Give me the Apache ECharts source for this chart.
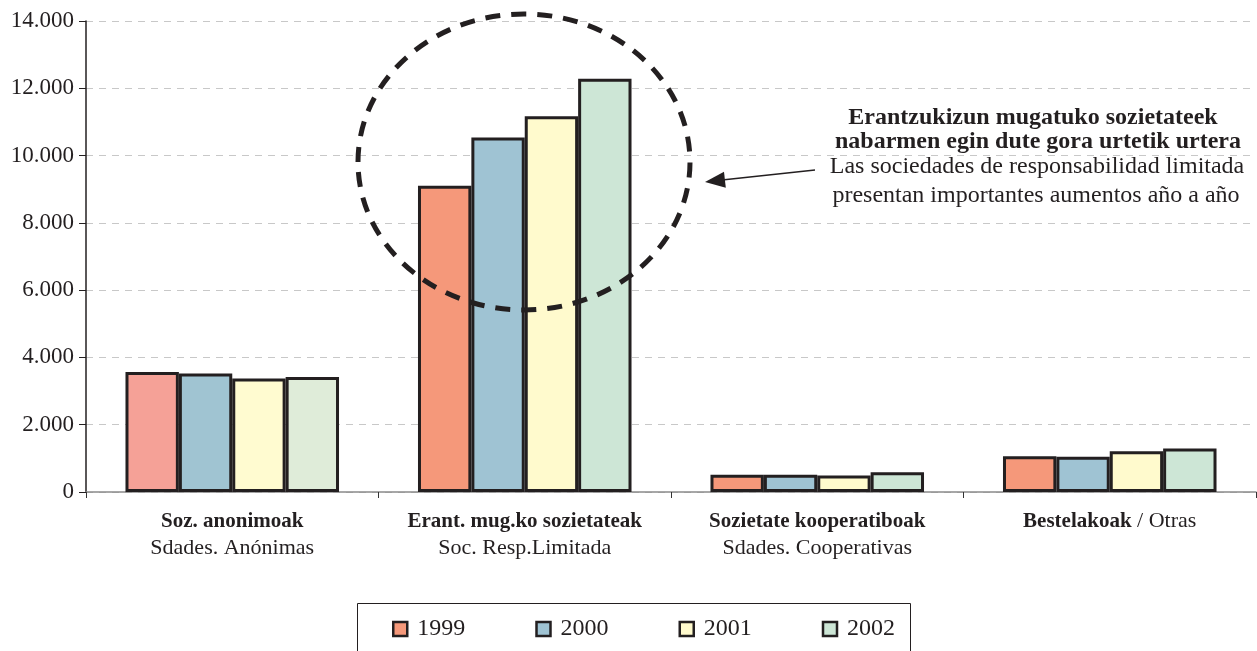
<!DOCTYPE html>
<html>
<head>
<meta charset="utf-8">
<script src="https://cdn.jsdelivr.net/npm/echarts@6/dist/echarts.min.js"></script>
<style>
html,body{margin:0;padding:0;background:#fff;}
#chart{width:1257px;height:651px;}
</style>
</head>
<body>
<div id="chart"></div>
<script>
// ---- data ----
var categoriesBold = ['Soz. anonimoak', 'Erant. mug.ko sozietateak', 'Sozietate kooperatiboak', 'Bestelakoak'];
var categoriesSub = ['Sdades. Anónimas', 'Soc. Resp.Limitada', 'Sdades. Cooperativas', 'Otras'];
var years = ['1999', '2000', '2001', '2002'];
var v1999 = [3570, 9100, 510, 1060];
var v2000 = [3520, 10540, 510, 1050];
var v2001 = [3370, 11170, 490, 1210];
var v2002 = [3420, 12280, 590, 1290];
var yTicks = [0, 2000, 4000, 6000, 8000, 10000, 12000, 14000];
var noteBold = ['Erantzukizun mugatuko sozietateek', 'nabarmen egin dute gora urtetik urtera'];
var noteRegular = ['Las sociedades de responsabilidad limitada', 'presentan importantes aumentos año a año'];

// ---- styles ----
var FONT = '"Liberation Serif", "Times New Roman", serif';
var colors = ['#F5987A', '#9FC3D3', '#FFFACD', '#CDE6D6'];
var firstGroupColors = ['#F5A197', '#A0C4D2', '#FFFBD0', '#DFECD9'];
var seriesValues = [v1999, v2000, v2001, v2002];

var chart = echarts.init(document.getElementById('chart'), null, {renderer: 'canvas'});

var series = years.map(function (y, i) {
  return {
    name: y,
    type: 'bar',
    barGap: '0%',
    barCategoryGap: '27%',
    itemStyle: {color: colors[i], borderColor: '#231f20', borderWidth: 3},
    data: seriesValues[i].map(function (v, j) {
      return j === 0 ? {value: v, itemStyle: {color: firstGroupColors[i]}} : v;
    }),
    z: 2
  };
});

var option = {
  animation: false,
  backgroundColor: '#fff',
  textStyle: {fontFamily: FONT},
  grid: {left: 86, right: 1, top: 21, bottom: 159, containLabel: false},
  xAxis: {
    type: 'category',
    data: categoriesBold,
    axisLine: {lineStyle: {color: '#8a8a8a', width: 1.5}},
    axisTick: {show: true, length: 6, lineStyle: {color: '#333', width: 1}},
    axisLabel: {
      margin: 16,
      lineHeight: 27,
      formatter: function (val, idx) {
        if (idx === 3) return '{b|' + val + '}{r| / ' + categoriesSub[idx] + '}';
        return '{b|' + val + '}\n{r|' + categoriesSub[idx] + '}';
      },
      rich: {
        b: {fontFamily: FONT, fontWeight: 'bold', fontSize: 21, color: '#231f20', lineHeight: 27},
        r: {fontFamily: FONT, fontSize: 22, color: '#231f20', lineHeight: 27}
      }
    }
  },
  yAxis: {
    type: 'value',
    min: 0,
    max: 14000,
    interval: 2000,
    axisLine: {show: true, lineStyle: {color: '#231f20', width: 1.5}},
    axisTick: {show: true, length: 7, lineStyle: {color: '#231f20', width: 1}},
    axisLabel: {
      margin: 12,
      fontFamily: FONT,
      fontSize: 23,
      color: '#231f20',
      formatter: function (v) {
        return String(v).replace(/\B(?=(\d{3})+(?!\d))/g, '.');
      }
    },
    splitLine: {show: true, lineStyle: {color: '#c8c8c8', type: [7, 6], width: 1.2}}
  },
  legend: {
    data: years,
    left: 387,
    top: 612,
    itemWidth: 14,
    itemHeight: 14,
    itemGap: 70,
    icon: 'rect',
    itemStyle: {borderColor: '#231f20', borderWidth: 2.5},
    textStyle: {fontFamily: FONT, fontSize: 24, color: '#231f20', padding: [0, 0, 0, 5]}
  },
  series: series,
  graphic: [
    {type: 'rect', shape: {x: 357.5, y: 603.5, width: 553, height: 60}, style: {fill: 'none', stroke: '#231f20', lineWidth: 1}, z: 1},
    {type: 'ellipse', shape: {cx: 524, cy: 162, rx: 166, ry: 148}, style: {fill: 'none', stroke: '#231f20', lineWidth: 5, lineDash: [15, 11]}, z: 100},
    {type: 'line', shape: {x1: 815, y1: 170, x2: 722, y2: 180}, style: {stroke: '#231f20', lineWidth: 1.5}, z: 100},
    {type: 'polygon', shape: {points: [[705, 182], [725.8, 187.7], [724.0, 171.8]]}, style: {fill: '#231f20'}, z: 100},
    {type: 'text', x: 1033, y: 118, style: {text: noteBold[0], font: 'bold 24px ' + FONT, fill: '#231f20', textAlign: 'center', textVerticalAlign: 'middle'}, z: 100},
    {type: 'text', x: 1038, y: 142, style: {text: noteBold[1], font: 'bold 24px ' + FONT, fill: '#231f20', textAlign: 'center', textVerticalAlign: 'middle'}, z: 100},
    {type: 'text', x: 1037, y: 167, style: {text: noteRegular[0], font: '24px ' + FONT, fill: '#231f20', textAlign: 'center', textVerticalAlign: 'middle'}, z: 100},
    {type: 'text', x: 1036, y: 196, style: {text: noteRegular[1], font: '24px ' + FONT, fill: '#231f20', textAlign: 'center', textVerticalAlign: 'middle'}, z: 100}
  ]
};
chart.setOption(option);
</script>
</body>
</html>
